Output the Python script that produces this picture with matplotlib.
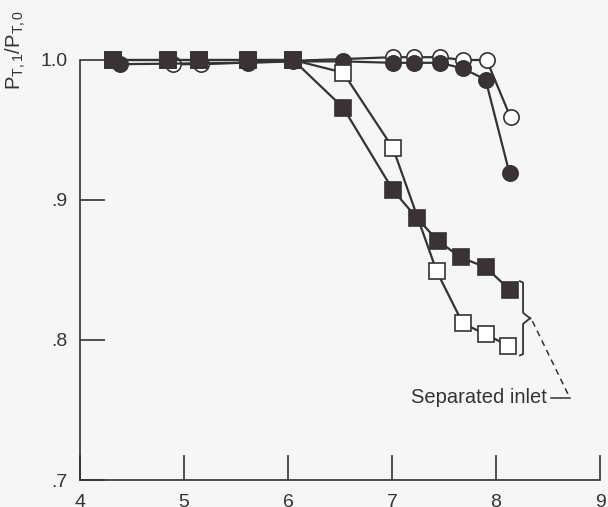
import matplotlib.pyplot as plt

plt.rcParams["font.family"] = ["Liberation Sans", "DejaVu Sans"]
plt.rcParams["mathtext.fontset"] = "custom"
plt.rcParams["mathtext.rm"] = "Liberation Sans"
plt.rcParams["mathtext.it"] = "Liberation Sans"

# data
sq_fill_x = [4.32, 4.85, 5.14, 5.62, 6.05, 6.53, 7.01, 7.24, 7.44, 7.66, 7.90, 8.13]
sq_fill_y = [1.0, 1.0, 1.0, 1.0, 1.0, 0.966, 0.907, 0.887, 0.871, 0.859, 0.852, 0.836]

sq_open_x = [4.32, 4.85, 5.14, 5.62, 6.05, 6.53, 7.01, 7.43, 7.68, 7.90, 8.12]
sq_open_y = [1.0, 1.0, 1.0, 1.0, 1.0, 0.991, 0.937, 0.849, 0.812, 0.804, 0.796]

ci_fill_x = [4.38, 5.62, 6.05, 6.53, 7.01, 7.21, 7.46, 7.68, 7.90, 8.13]
ci_fill_y = [0.997, 0.998, 0.999, 0.999, 0.998, 0.998, 0.998, 0.994, 0.986, 0.919]

ci_open_x = [4.89, 5.16, 7.01, 7.21, 7.46, 7.68, 7.91, 8.14]
ci_open_y = [0.997, 0.997, 1.002, 1.002, 1.002, 1.0, 1.0, 0.959]

x_ticks = [4, 5, 6, 7, 8, 9]
y_ticks = [0.7, 0.8, 0.9, 1.0]
y_ticklabels = [".7", ".8", ".9", "1.0"]

ink = "#333333"
fill = "#3b3237"
bg = "#f6f6f6"

fig = plt.figure(figsize=(6.08, 5.07), dpi=100, facecolor=bg)
ax = fig.add_axes([80 / 608, 27 / 507, 520 / 608, 420 / 507])
ax.set_facecolor(bg)

common = dict(color=ink, lw=1.6, markersize=11, markeredgewidth=1.2,
              markeredgecolor=ink, clip_on=False)
ax.plot(ci_open_x, ci_open_y, marker="o", markerfacecolor="white", zorder=3, **common)
ax.plot(ci_fill_x, ci_fill_y, marker="o", markerfacecolor=fill, zorder=4, **common)
ax.plot(sq_open_x, sq_open_y, marker="s", markerfacecolor="white", zorder=5, **common)
ax.plot(sq_fill_x, sq_fill_y, marker="s", markerfacecolor=fill, zorder=6, **common)

# brace around the separated-inlet end points
bx, tip = 8.26, 8.33
ytop, ymid, ybot = 0.841, 0.8155, 0.790
ax.plot([bx - 0.03, bx, bx, tip - 0.02, tip], [ytop + 0.001, ytop, ymid + 0.004, ymid + 0.001, ymid],
        color=ink, lw=1.3, clip_on=False)
ax.plot([bx - 0.03, bx, bx, tip - 0.02, tip], [ybot - 0.001, ybot, ymid - 0.004, ymid - 0.001, ymid],
        color=ink, lw=1.3, clip_on=False)
ax.plot([tip + 0.02, 8.71], [ymid - 0.002, 0.7586], color=ink, lw=1.1,
        ls=(0, (4, 3)), clip_on=False)
ax.plot([8.71, 8.53], [0.7586, 0.7586], color=ink, lw=1.1)
ax.text(8.49, 0.7586, "Separated inlet", ha="right", va="center", fontsize=14.5, color=ink)

ax.set_xlim(4, 9)
ax.set_ylim(0.7, 1.0)
ax.set_xticks(x_ticks)
ax.set_yticks(y_ticks)
ax.set_yticklabels(y_ticklabels)
ax.tick_params(direction="in", length=18, width=1.2, color=ink, labelcolor=ink,
               labelsize=14)
ax.tick_params(axis="x", pad=10)
ax.tick_params(axis="y", pad=9)
for side in ["top", "right"]:
    ax.spines[side].set_visible(False)
for side in ["left", "bottom"]:
    ax.spines[side].set_color(ink)
    ax.spines[side].set_linewidth(1.2)

ax.set_ylabel(r"$\mathregular{P_{T,1}/P_{T,0}}$", fontsize=14.5, color=ink)
ax.yaxis.set_label_coords(-0.100, 1.024)
ax.yaxis.label.set_verticalalignment("bottom")

fig.savefig("out.png", dpi=100, facecolor=bg)
